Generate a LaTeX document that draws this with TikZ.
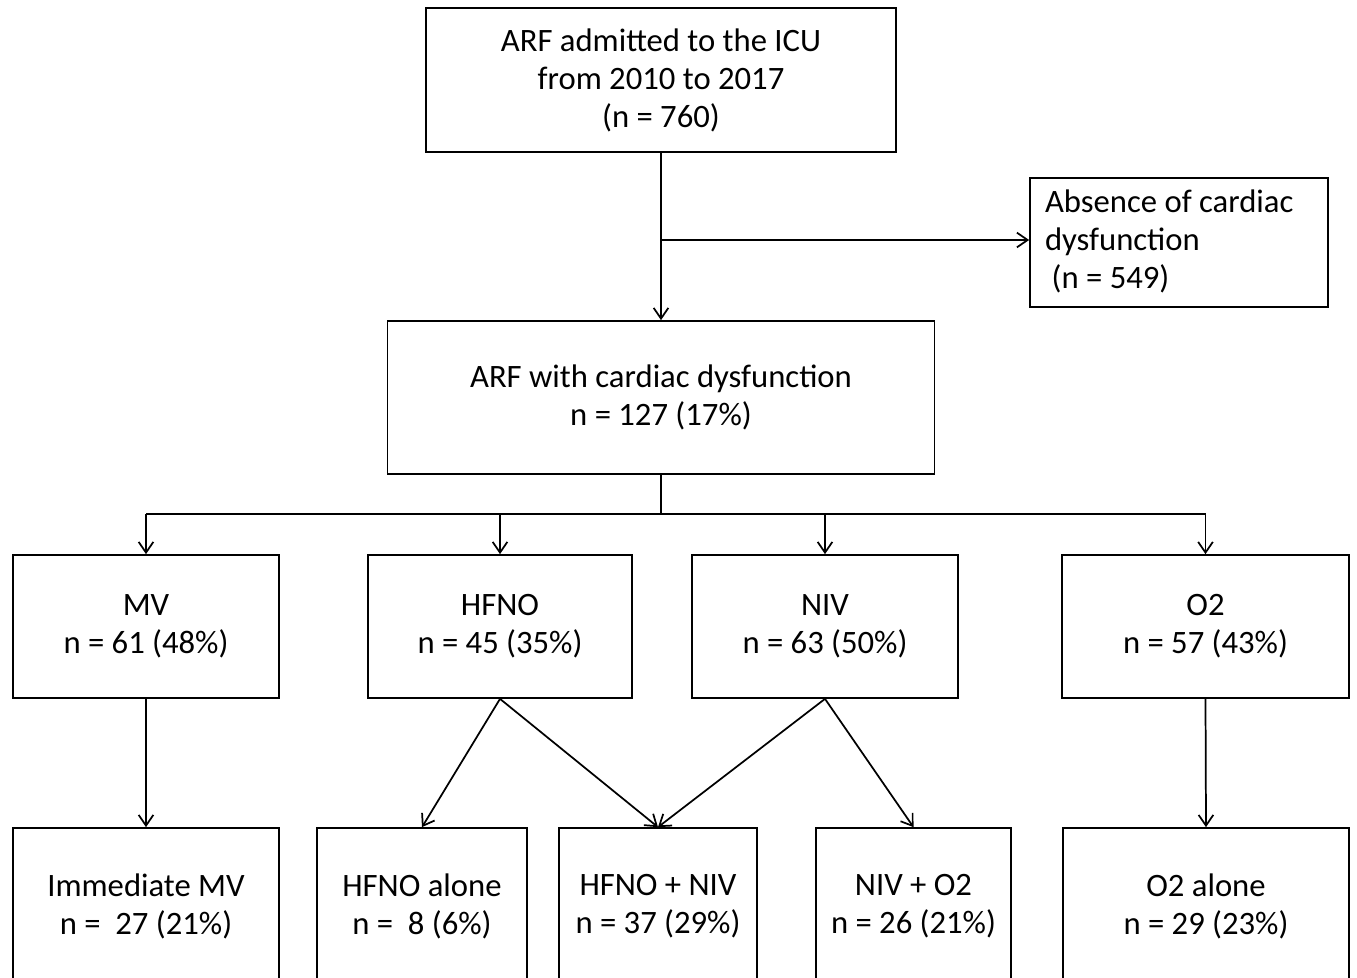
\documentclass[tikz,border=0pt]{standalone}
\usepackage{fontspec}
\setmainfont{Carlito}
\usetikzlibrary{arrows.meta}
\begin{document}
\begin{tikzpicture}[x=0.75pt,y=-0.75pt,
  box/.style={draw, line width=1.3pt, align=center, inner sep=0pt, font=\fontsize{24.5}{28.5}\selectfont},
  ln/.style={line width=1.3pt},
  arr/.style={line width=1.3pt, -{Straight Barb[length=8pt,width=11pt,line width=1.3pt]}}]
\useasboundingbox (0,0) rectangle (1357,978);
\clip (0,0) rectangle (1357,978);
% boxes
\node[box, minimum width=352.5pt, minimum height=108pt] (top) at (661,80)
  {ARF admitted to the ICU\\from 2010 to 2017\\(n = 760)};
\node[box, minimum width=223.5pt, minimum height=96.75pt] (right) at (1179,242.5)
  {\makebox[201pt][l]{\begin{tabular}{@{}l@{}}Absence of cardiac\\dysfunction\\\hspace*{5pt}(n = 549)\end{tabular}}};
\node[box, minimum width=410.25pt, minimum height=114.75pt] (mid) at (661,397.5)
  {ARF with cardiac dysfunction\\n = 127 (17\%)};
% row 2
\node[box, minimum width=199.5pt, minimum height=107.25pt] (mv) at (146,626.5) {MV\\n = 61 (48\%)};
\node[box, minimum width=198pt, minimum height=107.25pt] (hfno) at (500,626.5) {HFNO\\n = 45 (35\%)};
\node[box, minimum width=199.5pt, minimum height=107.25pt] (niv) at (825,626.5) {NIV\\n = 63 (50\%)};
\node[box, minimum width=215.25pt, minimum height=107.25pt] (o2) at (1205.5,626.5) {O2\\n = 57 (43\%)};
% row 3
\node[box, minimum width=199.5pt, minimum height=117pt] (imv) at (146,906) {Immediate MV\\n = \ 27 (21\%)};
\node[box, minimum width=157.5pt, minimum height=117pt] (hfnoa) at (422,906) {HFNO alone\\n = \ 8 (6\%)};
\node[box, minimum width=148.5pt, minimum height=117pt] (hn) at (658,906) {HFNO + NIV\\n = 37 (29\%)};
\node[box, minimum width=146.25pt, minimum height=117pt] (no) at (913.5,906) {NIV + O2\\n = 26 (21\%)};
\node[box, minimum width=214.5pt, minimum height=117pt] (o2a) at (1206,906) {O2 alone\\n = 29 (23\%)};
% connectors
\draw[arr] (top.south) -- (mid.north);
\coordinate (br) at (661,240);
\draw[arr] (br) -- (br -| right.west);
\coordinate (bar) at (661,514);
\draw[ln] (mid.south) -- (bar);
\draw[ln] (bar -| mv.north) -- (bar -| o2.north);
\draw[arr] (bar -| mv.north) -- (mv.north);
\draw[arr] (bar -| hfno.north) -- (hfno.north);
\draw[arr] (bar -| niv.north) -- (niv.north);
\draw[arr] (bar -| o2.north) -- (o2.north);
\draw[arr] (mv.south) -- (imv.north);
\draw[arr] (hfno.south) -- (hfnoa.north);
\draw[arr] (hfno.south) -- (hn.north);
\draw[arr] (niv.south) -- (hn.north);
\draw[arr] (niv.south) -- (no.north);
\draw[arr] (o2.south) -- (o2a.north);
\end{tikzpicture}
\end{document}
